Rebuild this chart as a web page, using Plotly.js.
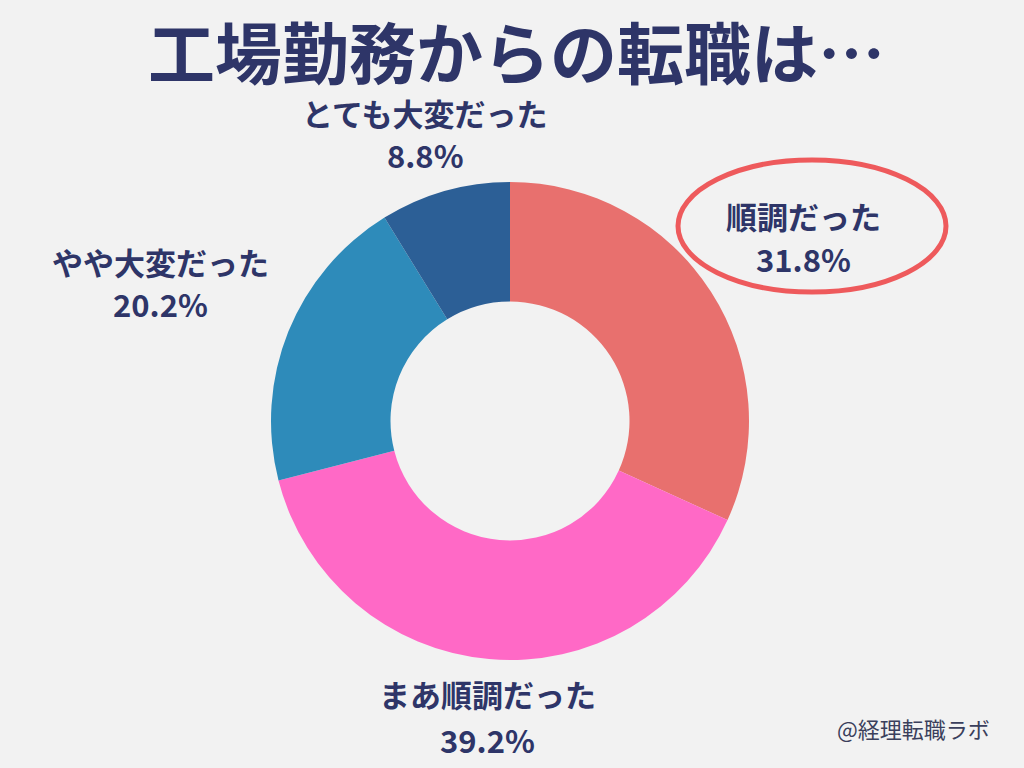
<!DOCTYPE html>
<html>
<head>
<meta charset="utf-8">
<script src="https://cdn.plot.ly/plotly-3.0.1.min.js"></script>
<style>html,body{margin:0;padding:0;background:#F2F2F2;}#chart{width:1024px;height:768px;}</style>
</head>
<body>
<div id="chart"></div>
<script>
const categories = ["順調だった", "まあ順調だった", "やや大変だった", "とても大変だった"];
const shares = [31.8, 39.2, 20.2, 8.8];
const sliceColors = ["#E8706E", "#FF69C6", "#2E8BBA", "#2C5F96"];
const titleText = "工場勤務からの転職は…";
const creditText = "@経理転職ラボ";

const navy = "#2E3568";
const font = "Noto Sans CJK JP, sans-serif";
const W = 1024, H = 768;
const px = x => x / W;
const py = y => 1 - y / H;

// label positions (pixels): [x, y of name line, y of value line]
const labelPos = [[803, 215, 259], [487, 693, 739], [160, 262, 303], [425, 112, 155]];

const annotations = [];
categories.forEach((c, i) => {
  annotations.push({
    xref: "paper", yref: "paper",
    x: px(labelPos[i][0]), y: py(labelPos[i][1]),
    xanchor: "center", yanchor: "middle",
    text: "<b>" + c + "</b>",
    showarrow: false, borderpad: 0,
    font: {family: font, size: 31, color: navy}
  });
  annotations.push({
    xref: "paper", yref: "paper",
    x: px(labelPos[i][0]), y: py(labelPos[i][2]),
    xanchor: "center", yanchor: "middle",
    text: "<b>" + shares[i].toFixed(1) + "%</b>",
    showarrow: false, borderpad: 0,
    font: {family: font, size: 31, color: navy}
  });
});
annotations.push({
  xref: "paper", yref: "paper", x: px(516), y: py(49),
  xanchor: "center", yanchor: "middle", showarrow: false, borderpad: 0,
  text: "<b>" + titleText + "</b>",
  font: {family: font, size: 67, color: navy}
});
annotations.push({
  xref: "paper", yref: "paper", x: px(992), y: py(728),
  xanchor: "right", yanchor: "middle", showarrow: false,
  text: creditText,
  font: {family: font, size: 22, color: "#3A3F5C"}
});

const cx = 510, cy = 421, r = 239;
const data = [{
  type: "pie",
  labels: categories,
  values: shares,
  hole: 0.5,
  sort: false,
  direction: "clockwise",
  rotation: 0,
  textinfo: "none",
  marker: {colors: sliceColors, line: {width: 0}},
  domain: {x: [px(cx - r), px(cx + r)], y: [py(cy + r), py(cy - r)]},
  showlegend: false
}];

const layout = {
  width: W, height: H,
  margin: {l: 0, r: 0, t: 0, b: 0},
  paper_bgcolor: "#F2F2F2",
  plot_bgcolor: "#F2F2F2",
  showlegend: false,
  annotations: annotations,
  shapes: [{
    type: "circle", xref: "paper", yref: "paper",
    x0: px(678), x1: px(946), y0: py(292), y1: py(160),
    line: {color: "#EE5A5C", width: 5}
  }]
};

Plotly.newPlot("chart", data, layout, {staticPlot: true});
</script>
</body>
</html>
